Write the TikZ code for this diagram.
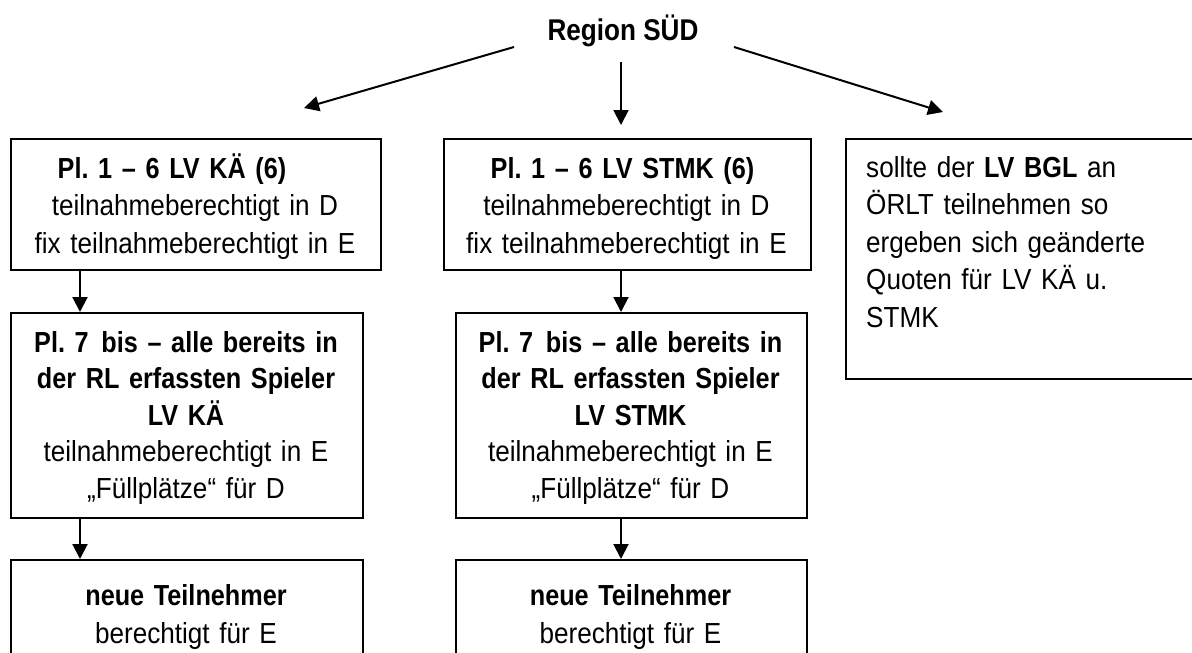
\documentclass[tikz,border=0pt]{standalone}
\usepackage{fontspec}
\setmainfont[FakeStretch=0.9, BoldFeatures={FakeStretch=0.87}]{Liberation Sans}
\usetikzlibrary{arrows.meta}
\frenchspacing
\tikzset{
  box/.style={draw=black, line width=1.8pt, rectangle, inner sep=0pt, anchor=north west},
  txt/.style={inner sep=0pt, font=\fontsize{29}{37.5}\selectfont},
  txtb/.style={inner sep=0pt, font=\fontsize{29}{36.5}\selectfont},
  arr/.style={line width=2pt, -{Triangle[length=15pt,width=15pt]}}
}
\begin{document}
\begin{tikzpicture}[x=1pt, y=-1pt]
\useasboundingbox (0,0) rectangle (1192,653);
\clip (0,0) rectangle (1192,653);
\fill[white] (0,0) rectangle (1192,653);

% title
\node[txt, anchor=base, font=\fontsize{30}{36}\selectfont] (title) at (623,40) {\textbf{Region SÜD}};

% row 1 boxes
\node[box, minimum width=370pt, minimum height=131pt] (b1) at (10,138) {};
\node[txt, text width=370pt, align=center, anchor=base] (t1) at (195,178)
  {\textbf{Pl. 1 – 6 LV KÄ (6)}\rule{46pt}{0pt}\\teilnahmeberechtigt in D\\fix teilnahmeberechtigt in E};

\node[box, minimum width=367pt, minimum height=131pt] (b2) at (443,138) {};
\node[txt, text width=367pt, align=center, anchor=base] (t2) at (626.5,178)
  {\textbf{Pl. 1 – 6 LV STMK (6)}\rule{8pt}{0pt}\\teilnahmeberechtigt in D\\fix teilnahmeberechtigt in E};

\node[box, minimum width=370pt, minimum height=240pt] (b3) at (845,138) {};
\node[txt, text width=320pt, align=left, anchor=base west] (t3) at (866,177)
  {sollte der \textbf{LV BGL} an\\ÖRLT teilnehmen so\\ergeben sich geänderte\\Quoten für LV KÄ u.\\STMK};

% row 2 boxes
\node[box, minimum width=352pt, minimum height=205pt] (b4) at (10,312) {};
\node[txtb, text width=352pt, align=center, anchor=base] (t4) at (186,352)
  {\textbf{Pl. 7\hspace{3pt} bis – alle bereits in}\\\textbf{der RL erfassten Spieler}\\\textbf{LV KÄ}\\teilnahmeberechtigt in E\\„Füllplätze“ für D};

\node[box, minimum width=351pt, minimum height=205pt] (b5) at (455,312) {};
\node[txtb, text width=351pt, align=center, anchor=base] (t5) at (630.5,352)
  {\textbf{Pl. 7\hspace{3pt} bis – alle bereits in}\\\textbf{der RL erfassten Spieler}\\\textbf{LV STMK}\\teilnahmeberechtigt in E\\„Füllplätze“ für D};

% row 3 boxes
\node[box, minimum width=352pt, minimum height=120pt] (b6) at (10,559) {};
\node[txt, text width=352pt, align=center, anchor=base, font=\fontsize{29}{38}\selectfont] (t6) at (186,605)
  {\textbf{neue Teilnehmer}\\berechtigt für E};

\node[box, minimum width=351pt, minimum height=120pt] (b7) at (455,559) {};
\node[txt, text width=351pt, align=center, anchor=base, font=\fontsize{29}{38}\selectfont] (t7) at (630.5,605)
  {\textbf{neue Teilnehmer}\\berechtigt für E};

% arrows from title
\coordinate (L0) at (514,47);
\coordinate (L1) at (304,108);
\coordinate (M0) at (621,62);
\coordinate (M1) at (621,125);
\coordinate (R0) at (734,47);
\coordinate (R1) at (943,112);
\draw[arr] (L0) -- (L1);
\draw[arr] (M0) -- (M1);
\draw[arr] (R0) -- (R1);

% vertical arrows
\draw[arr] ([xshift=70pt]b1.south west) -- ([xshift=70pt]b4.north west);
\draw[arr] ([xshift=178pt]b2.south west) -- ([xshift=166pt]b5.north west);
\draw[arr] ([xshift=70pt]b4.south west) -- ([xshift=70pt]b6.north west);
\draw[arr] ([xshift=166pt]b5.south west) -- ([xshift=166pt]b7.north west);
\end{tikzpicture}
\end{document}
